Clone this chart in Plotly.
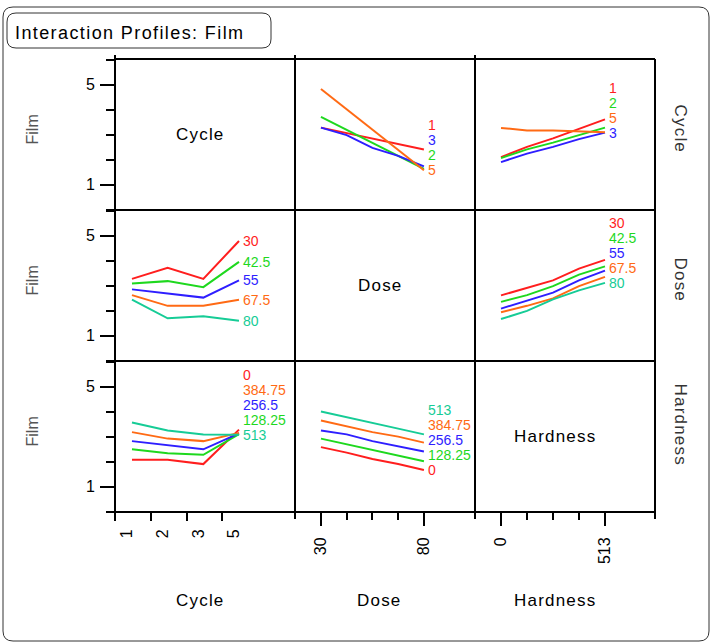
import plotly.graph_objects as go

W, H = 711, 643

# ---- factor levels -------------------------------------------------------
cycle_levels = ["1", "2", "3", "5"]
dose_levels = [30, 42.5, 55, 67.5, 80]
dose_labels = ["30", "42.5", "55", "67.5", "80"]
hardness_levels = [0, 128.25, 256.5, 384.75, 513]
hardness_labels = ["0", "128.25", "256.5", "384.75", "513"]

film_ticks = [1, 5]
film_tick_labels = ["1", "5"]

# ---- predicted Film, one list per line ------------------------------------
# Film vs Dose, one line per Cycle level
film_dose_cycle1 = [3.28, 3.06, 2.85, 2.63, 2.40]
film_dose_cycle2 = [3.71, 3.19, 2.67, 2.15, 1.63]
film_dose_cycle3 = [3.28, 2.98, 2.47, 2.15, 1.73]
film_dose_cycle5 = [4.83, 4.01, 3.19, 2.38, 1.57]

# Film vs Hardness, one line per Cycle level
film_hard_cycle1 = [2.10, 2.51, 2.85, 3.22, 3.61]
film_hard_cycle2 = [2.06, 2.41, 2.68, 2.98, 3.28]
film_hard_cycle3 = [1.90, 2.24, 2.51, 2.82, 3.08]
film_hard_cycle5 = [3.27, 3.17, 3.17, 3.14, 3.10]

# Film vs Cycle, one line per Dose level
film_cycle_dose30 = [3.27, 3.71, 3.27, 4.79]
film_cycle_dose42 = [3.09, 3.18, 2.94, 3.95]
film_cycle_dose55 = [2.85, 2.69, 2.52, 3.21]
film_cycle_dose67 = [2.62, 2.19, 2.19, 2.43]
film_cycle_dose80 = [2.44, 1.69, 1.77, 1.59]

# Film vs Hardness, one line per Dose level
film_hard_dose30 = [2.61, 2.92, 3.21, 3.68, 4.03]
film_hard_dose42 = [2.35, 2.62, 2.98, 3.44, 3.77]
film_hard_dose55 = [2.08, 2.39, 2.72, 3.21, 3.60]
film_hard_dose67 = [1.93, 2.19, 2.49, 2.98, 3.35]
film_hard_dose80 = [1.66, 1.99, 2.45, 2.81, 3.11]

# Film vs Cycle, one line per Hardness level
film_cycle_hard0 = [2.07, 2.07, 1.90, 3.28]
film_cycle_hard128 = [2.49, 2.33, 2.27, 3.10]
film_cycle_hard256 = [2.82, 2.66, 2.49, 3.13]
film_cycle_hard384 = [3.18, 2.92, 2.82, 3.15]
film_cycle_hard513 = [3.57, 3.25, 3.09, 3.08]

# Film vs Dose, one line per Hardness level
film_dose_hard0 = [2.58, 2.36, 2.10, 1.90, 1.66]
film_dose_hard128 = [2.92, 2.69, 2.49, 2.26, 2.01]
film_dose_hard256 = [3.25, 3.09, 2.82, 2.62, 2.40]
film_dose_hard384 = [3.65, 3.42, 3.18, 3.00, 2.76]
film_dose_hard513 = [4.01, 3.77, 3.55, 3.32, 3.09]

level_colors = ["#FF1E1E", "#1ED81E", "#2E1EFF", "#FF6A14", "#16CC96"]

FONT = "Liberation Sans, Arial, sans-serif"

# ---- layout geometry (pixels) -------------------------------------------
col_px = [(115, 295), (295, 475), (475, 655)]
row_px = [(59, 210), (210, 361), (361, 512)]
factor_names = ["Cycle", "Dose", "Hardness"]
name_shift = [-5, -5, -10]
film_range = [-0.02, 6.03]

cycle_pos = list(range(len(cycle_levels)))
factor_x = {"Cycle": cycle_pos, "Dose": dose_levels, "Hardness": hardness_levels}
factor_range = {"Cycle": [-0.476, 4.57], "Dose": [17.4, 104.8], "Hardness": [-128.3, 759.7]}


def px_x(v):
    return v / W


def px_y(v):
    return 1 - v / H


def spaced(text, sp=1.2):
    return f"<span style='letter-spacing:{sp}px'>{text}</span>"


# (row, col) -> (series, labels)
panels = {
    (0, 1): ([film_dose_cycle1, film_dose_cycle2, film_dose_cycle3, film_dose_cycle5], cycle_levels),
    (0, 2): ([film_hard_cycle1, film_hard_cycle2, film_hard_cycle3, film_hard_cycle5], cycle_levels),
    (1, 0): ([film_cycle_dose30, film_cycle_dose42, film_cycle_dose55, film_cycle_dose67, film_cycle_dose80], dose_labels),
    (1, 2): ([film_hard_dose30, film_hard_dose42, film_hard_dose55, film_hard_dose67, film_hard_dose80], dose_labels),
    (2, 0): ([film_cycle_hard0, film_cycle_hard128, film_cycle_hard256, film_cycle_hard384, film_cycle_hard513], hardness_labels),
    (2, 1): ([film_dose_hard0, film_dose_hard128, film_dose_hard256, film_dose_hard384, film_dose_hard513], hardness_labels),
}

fig = go.Figure()
layout = {}
annotations = []
shapes = []
LABEL_GAP = 0.6

for r in range(3):
    for c in range(3):
        k = r * 3 + c + 1
        xa = "xaxis" if k == 1 else f"xaxis{k}"
        ya = "yaxis" if k == 1 else f"yaxis{k}"
        xref = "x" if k == 1 else f"x{k}"
        yref = "y" if k == 1 else f"y{k}"
        fname = factor_names[c]

        xax = dict(
            domain=[px_x(col_px[c][0]), px_x(col_px[c][1])],
            range=factor_range[fname], anchor=yref,
            showline=False, showgrid=False, zeroline=False, fixedrange=True,
            showticklabels=False, ticks="",
        )
        if r == 2:
            tick_font = dict(family=FONT, size=16, color="black")
            if fname == "Cycle":
                xax.update(
                    tickmode="array",
                    tickvals=[p - 0.47 for p in cycle_pos], ticktext=cycle_levels,
                    ticks="outside", ticklen=8, tickwidth=1.5, tickcolor="black",
                    showticklabels=True, tickangle=-90, ticklabelshift=12,
                    ticklabelstandoff=2, tickfont=tick_font,
                )
            else:
                lv = dose_levels if fname == "Dose" else hardness_levels
                lb = dose_labels if fname == "Dose" else hardness_labels
                xax.update(
                    tickmode="array",
                    tickvals=[lv[0], lv[-1]], ticktext=[lb[0], lb[-1]],
                    ticks="outside", ticklen=13, tickwidth=1.5, tickcolor="black",
                    showticklabels=True, tickangle=-90, ticklabelstandoff=5,
                    tickfont=tick_font,
                    minor=dict(tickmode="array", tickvals=lv[1:-1], ticks="outside",
                               ticklen=7, tickwidth=1.5, tickcolor="black"),
                )
        yax = dict(
            domain=[px_y(row_px[r][1]), px_y(row_px[r][0])],
            range=film_range, anchor=xref,
            showline=False, showgrid=False, zeroline=False, fixedrange=True,
            showticklabels=False, ticks="",
        )
        if c == 0:
            yax.update(
                tickmode="array", tickvals=film_ticks, ticktext=film_tick_labels,
                ticks="outside", ticklen=14, tickwidth=1.5, tickcolor="black",
                showticklabels=True, ticklabelstandoff=2,
                tickfont=dict(family=FONT, size=16, color="black"),
                minor=dict(tickmode="linear", tick0=0, dtick=1, ticks="outside",
                           ticklen=8, tickwidth=1.5, tickcolor="black"),
            )
        layout[xa] = xax
        layout[ya] = yax

        if r == c:
            # empty profile cell: keep the frame, show the factor name
            fig.add_trace(go.Scatter(
                x=[], y=[], mode="lines", xaxis=xref, yaxis=yref,
                showlegend=False, hoverinfo="skip",
            ))
            annotations.append(dict(
                x=0.5, y=0.5, xref=f"{xref} domain", yref=f"{yref} domain",
                xanchor="center", yanchor="middle",
                text=spaced(fname), showarrow=False, xshift=name_shift[c],
                font=dict(family=FONT, size=17, color="black"),
            ))
            continue

        series, labels = panels[(r, c)]
        xs = factor_x[fname]
        for i, ys in enumerate(series):
            fig.add_trace(go.Scatter(
                x=xs, y=ys, mode="lines", xaxis=xref, yaxis=yref,
                line=dict(color=level_colors[i], width=2),
                showlegend=False, hoverinfo="skip",
            ))
        # end labels, stacked upward so they never overlap
        order = sorted(range(len(series)), key=lambda i: series[i][-1])
        prev = None
        for i in order:
            yv = series[i][-1] if prev is None else max(series[i][-1], prev + LABEL_GAP)
            prev = yv
            annotations.append(dict(
                x=xs[-1], y=yv, xref=xref, yref=yref, text=labels[i],
                showarrow=False, xanchor="left", yanchor="middle", xshift=2,
                font=dict(family=FONT, size=14, color=level_colors[i]),
            ))

# row titles on the left, factor names on the right, column titles below
for r in range(3):
    yc = (row_px[r][0] + row_px[r][1]) / 2
    annotations.append(dict(
        x=px_x(32), y=px_y(yc - 5), xref="paper", yref="paper", text="Film",
        xanchor="center", yanchor="middle", textangle=-90, showarrow=False,
        font=dict(family=FONT, size=16, color="#555555"),
    ))
    annotations.append(dict(
        x=px_x(680), y=px_y(yc + name_shift[r] * 1.2), xref="paper", yref="paper",
        text=spaced(factor_names[r]), xanchor="center", yanchor="middle",
        textangle=90, showarrow=False,
        font=dict(family=FONT, size=17, color="#333333"),
    ))
for c in range(3):
    xc = (col_px[c][0] + col_px[c][1]) / 2
    annotations.append(dict(
        x=px_x(xc + name_shift[c]), y=px_y(600), xref="paper", yref="paper",
        text=spaced(factor_names[c]), xanchor="center", yanchor="middle",
        showarrow=False, font=dict(family=FONT, size=17, color="black"),
    ))

annotations.append(dict(
    x=px_x(13), y=px_y(33), xref="paper", yref="paper",
    text=spaced("Interaction Profiles: Film", 1.4), showarrow=False,
    xanchor="left", yanchor="middle",
    font=dict(family=FONT, size=18, color="black"),
))


def rounded_rect(x0, y0, x1, y1, rad):
    rx, ry = rad / W, rad / H
    a, b, cc, d = px_x(x0), px_y(y0), px_x(x1), px_y(y1)
    return (f"M {a + rx},{b} L {cc - rx},{b} Q {cc},{b} {cc},{b - ry} "
            f"L {cc},{d + ry} Q {cc},{d} {cc - rx},{d} L {a + rx},{d} "
            f"Q {a},{d} {a},{d + ry} L {a},{b - ry} Q {a},{b} {a + rx},{b} Z")


shapes.append(dict(type="path", xref="paper", yref="paper",
                   path=rounded_rect(3, 7, 709, 641, 10),
                   line=dict(color="#333333", width=1)))
shapes.append(dict(type="path", xref="paper", yref="paper",
                   path=rounded_rect(7, 13, 271, 48, 9),
                   line=dict(color="#333333", width=1)))

# panel grid: single 2px rules shared by neighbouring cells
grid_top, grid_bottom = row_px[0][0], row_px[2][1]
grid_left, grid_right = col_px[0][0], col_px[2][1]
col_edges = [col_px[0][0]] + [c1 for _, c1 in col_px]
row_edges = [row_px[0][0]] + [r1 for _, r1 in row_px]
for i, xe in enumerate(col_edges):
    top = grid_top if xe == grid_right else grid_top - 4
    shapes.append(dict(type="line", xref="paper", yref="paper",
                       x0=px_x(xe), x1=px_x(xe), y0=px_y(top), y1=px_y(grid_bottom + 7),
                       line=dict(color="black", width=2)))
for ye in row_edges:
    shapes.append(dict(type="line", xref="paper", yref="paper",
                       x0=px_x(grid_left), x1=px_x(grid_right), y0=px_y(ye), y1=px_y(ye),
                       line=dict(color="black", width=2)))

fig.update_layout(
    width=W, height=H, margin=dict(l=0, r=0, t=0, b=0),
    paper_bgcolor="white", plot_bgcolor="white",
    annotations=annotations, shapes=shapes, **layout,
)

fig.write_html("out.html")
